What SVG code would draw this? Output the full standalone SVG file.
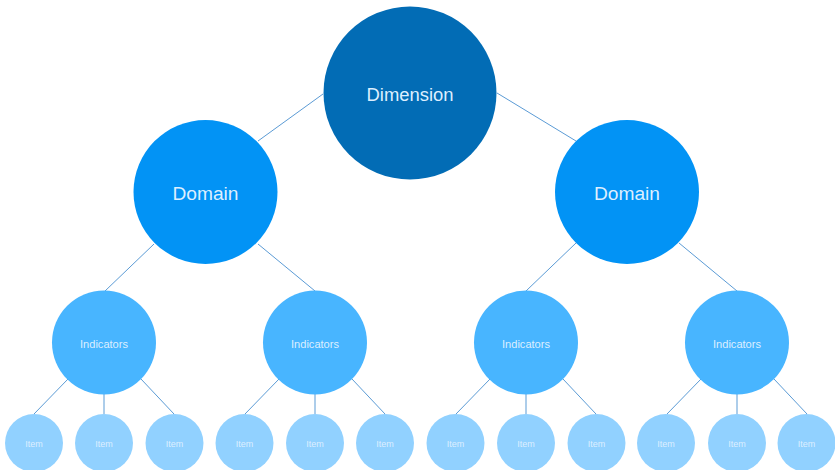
<svg xmlns="http://www.w3.org/2000/svg" width="835" height="470" viewBox="0 0 835 470">
<style>
.c{stroke:#5B9BD5;stroke-width:1;fill:none}
.t{font-family:"Liberation Sans",Arial,sans-serif;fill:#DDEFFF;text-anchor:middle;dominant-baseline:central}
.dim{fill:#026CB5}
.dom{fill:#0293F5}
.ind{fill:#48B5FF}
.itm{fill:#91D1FF}
</style>
<rect width="835" height="470" fill="#FFFFFF"/>
<g id="connectors">
<line class="c" x1="323" y1="94" x2="258" y2="141"/>
<line class="c" x1="497" y1="93" x2="576" y2="141"/>
<line class="c" x1="154" y1="244" x2="105" y2="291"/>
<line class="c" x1="258" y1="244" x2="315" y2="291"/>
<line class="c" x1="576" y1="243" x2="526" y2="291"/>
<line class="c" x1="679" y1="243" x2="737" y2="291"/>
<line class="c" x1="68" y1="379" x2="34" y2="414"/>
<line class="c" x1="104" y1="394" x2="104" y2="414"/>
<line class="c" x1="141" y1="379" x2="174" y2="414"/>
<line class="c" x1="279" y1="379" x2="245" y2="414"/>
<line class="c" x1="315" y1="394" x2="315" y2="414"/>
<line class="c" x1="352" y1="379" x2="385" y2="414"/>
<line class="c" x1="490" y1="379" x2="456" y2="414"/>
<line class="c" x1="526" y1="394" x2="526" y2="414"/>
<line class="c" x1="563" y1="379" x2="596" y2="414"/>
<line class="c" x1="701" y1="379" x2="667" y2="414"/>
<line class="c" x1="737" y1="394" x2="737" y2="414"/>
<line class="c" x1="774" y1="379" x2="807" y2="414"/>
</g>
<g id="dimension"><circle class="dim" cx="410" cy="93" r="86.5"/><text class="t" x="410" y="95" font-size="18" textLength="87" lengthAdjust="spacingAndGlyphs">Dimension</text></g>
<g id="domain-left"><circle class="dom" cx="205.5" cy="192" r="72"/><text class="t" x="205.5" y="193.5" font-size="18" textLength="66" lengthAdjust="spacingAndGlyphs">Domain</text></g>
<g id="domain-right"><circle class="dom" cx="627" cy="192" r="72"/><text class="t" x="627" y="193.5" font-size="18" textLength="66" lengthAdjust="spacingAndGlyphs">Domain</text></g>
<g id="ind-1"><circle class="ind" cx="104" cy="342.5" r="52"/><text class="t" x="104" y="343.5" font-size="10.5" textLength="48" lengthAdjust="spacingAndGlyphs">Indicators</text></g>
<g id="ind-2"><circle class="ind" cx="315" cy="342.5" r="52"/><text class="t" x="315" y="343.5" font-size="10.5" textLength="48" lengthAdjust="spacingAndGlyphs">Indicators</text></g>
<g id="ind-3"><circle class="ind" cx="526" cy="342.5" r="52"/><text class="t" x="526" y="343.5" font-size="10.5" textLength="48" lengthAdjust="spacingAndGlyphs">Indicators</text></g>
<g id="ind-4"><circle class="ind" cx="737" cy="342.5" r="52"/><text class="t" x="737" y="343.5" font-size="10.5" textLength="48" lengthAdjust="spacingAndGlyphs">Indicators</text></g>
<g id="item-1"><circle class="itm" cx="34" cy="443" r="29"/><text class="t" x="34" y="443.5" font-size="8.3" textLength="17.5" lengthAdjust="spacingAndGlyphs">Item</text></g>
<g id="item-2"><circle class="itm" cx="104" cy="443" r="29"/><text class="t" x="104" y="443.5" font-size="8.3" textLength="17.5" lengthAdjust="spacingAndGlyphs">Item</text></g>
<g id="item-3"><circle class="itm" cx="174.5" cy="443" r="29"/><text class="t" x="174.5" y="443.5" font-size="8.3" textLength="17.5" lengthAdjust="spacingAndGlyphs">Item</text></g>
<g id="item-4"><circle class="itm" cx="244.5" cy="443" r="29"/><text class="t" x="244.5" y="443.5" font-size="8.3" textLength="17.5" lengthAdjust="spacingAndGlyphs">Item</text></g>
<g id="item-5"><circle class="itm" cx="315" cy="443" r="29"/><text class="t" x="315" y="443.5" font-size="8.3" textLength="17.5" lengthAdjust="spacingAndGlyphs">Item</text></g>
<g id="item-6"><circle class="itm" cx="385" cy="443" r="29"/><text class="t" x="385" y="443.5" font-size="8.3" textLength="17.5" lengthAdjust="spacingAndGlyphs">Item</text></g>
<g id="item-7"><circle class="itm" cx="455.5" cy="443" r="29"/><text class="t" x="455.5" y="443.5" font-size="8.3" textLength="17.5" lengthAdjust="spacingAndGlyphs">Item</text></g>
<g id="item-8"><circle class="itm" cx="526" cy="443" r="29"/><text class="t" x="526" y="443.5" font-size="8.3" textLength="17.5" lengthAdjust="spacingAndGlyphs">Item</text></g>
<g id="item-9"><circle class="itm" cx="596.5" cy="443" r="29"/><text class="t" x="596.5" y="443.5" font-size="8.3" textLength="17.5" lengthAdjust="spacingAndGlyphs">Item</text></g>
<g id="item-10"><circle class="itm" cx="666" cy="443" r="29"/><text class="t" x="666" y="443.5" font-size="8.3" textLength="17.5" lengthAdjust="spacingAndGlyphs">Item</text></g>
<g id="item-11"><circle class="itm" cx="737" cy="443" r="29"/><text class="t" x="737" y="443.5" font-size="8.3" textLength="17.5" lengthAdjust="spacingAndGlyphs">Item</text></g>
<g id="item-12"><circle class="itm" cx="806.5" cy="443" r="29"/><text class="t" x="806.5" y="443.5" font-size="8.3" textLength="17.5" lengthAdjust="spacingAndGlyphs">Item</text></g>
</svg>
